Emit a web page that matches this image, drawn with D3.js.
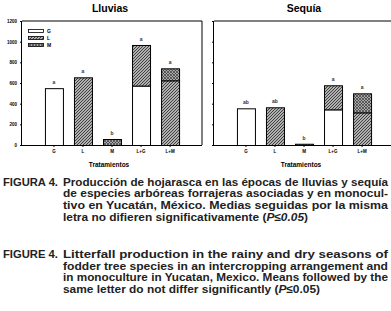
<!DOCTYPE html>
<html>
<head>
<meta charset="utf-8">
<script src="https://cdn.jsdelivr.net/npm/d3@7"></script>
<style>
  html, body { margin: 0; padding: 0; background: #fff; }
  svg { display: block; font-family: "Liberation Sans", Arial, sans-serif; }
</style>
</head>
<body>
<svg id="chart" width="391" height="311"></svg>
<script>
// datos (kg MS/ha)
const tratamientos = ["G", "L", "M", "L+G", "L+M"];
const componentes = ["G", "L", "M"];
const yTicks = [0, 200, 400, 600, 800, 1000, 1200];

const lluviasG = [550, 0, 0, 575, 0];
const lluviasL = [0, 655, 0, 393, 626];
const lluviasM = [0, 0, 58, 0, 116];
const lluviasLetras = ["a", "a", "b", "a", "a"];

const sequiaG = [355, 0, 0, 345, 0];
const sequiaL = [0, 365, 0, 233, 316];
const sequiaM = [0, 0, 12, 0, 184];
const sequiaLetras = ["ab", "ab", "b", "a", "a"];

const svg = d3.select("#chart");

// tramas
const defs = svg.append("defs");
const pL = defs.append("pattern").attr("id", "patL")
  .attr("patternUnits", "userSpaceOnUse").attr("width", 3).attr("height", 3);
pL.append("rect").attr("width", 3).attr("height", 3).attr("fill", "#b0b0b0");
pL.append("path").attr("d", "M-1,1 l2,-2 M0,3 l3,-3 M2,4 l2,-2")
  .attr("stroke", "#333").attr("stroke-width", 0.9);
const pM = defs.append("pattern").attr("id", "patM")
  .attr("patternUnits", "userSpaceOnUse").attr("width", 3).attr("height", 3);
pM.append("rect").attr("width", 3).attr("height", 3).attr("fill", "#a8a8a8");
pM.append("path").attr("d", "M-1,1 l2,-2 M0,3 l3,-3 M2,4 l2,-2 M0,0 l3,3")
  .attr("stroke", "#3a3a3a").attr("stroke-width", 0.7);

const fills = { G: "#fff", L: "url(#patL)", M: "url(#patM)" };

const plotTop = 21, plotBottom = 145, plotW = 180;
const y = d3.scaleLinear().domain([0, 1200]).range([plotBottom, plotTop]);

function panel(x0, titulo, gVals, lVals, mVals, letras, conEtiquetas, conLeyenda, cerrado) {
  const x = d3.scaleBand().domain(tratamientos)
    .range([x0, x0 + plotW]).paddingInner(0.38).paddingOuter(0.79);

  const filas = tratamientos.map((t, i) => ({ t, G: gVals[i], L: lVals[i], M: mVals[i] }));
  const series = d3.stack().keys(componentes)(filas);

  const g = svg.append("g");

  // marco
  g.append("line").attr("x1", x0).attr("x2", cerrado ? x0 + plotW : 400)
    .attr("y1", plotTop).attr("y2", plotTop).attr("stroke", "#000");
  if (cerrado) {
    g.append("line").attr("x1", x0 + plotW).attr("x2", x0 + plotW)
      .attr("y1", plotTop).attr("y2", plotBottom).attr("stroke", "#000");
  }

  series.forEach(s => {
    g.selectAll(null).data(s.filter(d => d[1] - d[0] > 0)).enter()
      .append("rect")
      .attr("x", d => x(d.data.t) + 0.5)
      .attr("y", d => y(d[1]) + 0.5)
      .attr("width", x.bandwidth())
      .attr("height", d => y(d[0]) - y(d[1]))
      .attr("fill", fills[s.key])
      .attr("stroke", "#000")
      .attr("stroke-width", 1);
  });

  const totales = filas.map(d => d.G + d.L + d.M);
  g.selectAll(null).data(tratamientos).enter().append("text")
    .attr("x", d => x(d) + x.bandwidth() / 2)
    .attr("y", (d, i) => y(totales[i]) - 4)
    .attr("text-anchor", "middle")
    .style("font-size", "5px").style("font-weight", "bold").attr("fill", "#333")
    .text((d, i) => letras[i]);

  const ax = g.append("g").attr("transform", `translate(${x0},0)`)
    .call(d3.axisLeft(y).tickValues(yTicks).tickSize(2).tickPadding(3)
      .tickFormat(conEtiquetas ? d3.format("d") : ""));
  ax.select(".domain").attr("d", `M-0.5,${plotTop}V${plotBottom}`);
  ax.selectAll("text").style("font-size", "4.5px").style("font-weight", "bold")
    .attr("font-family", null);

  const bx = g.append("g").attr("transform", `translate(0,${plotBottom})`)
    .call(d3.axisBottom(x).tickSize(2).tickPadding(3).tickSizeOuter(0));
  bx.select(".domain").attr("d", `M${x0},0.5H${cerrado ? x0 + plotW : 400}`);
  bx.selectAll("text").style("font-size", "4.5px").style("font-weight", "bold")
    .attr("font-family", null);

  svg.append("text").attr("x", x0 + 87).attr("y", 167)
    .attr("text-anchor", "middle").style("font-size", "6.5px").style("font-weight", "bold")
    .text("Tratamientos");

  svg.append("text").attr("x", x0 + (cerrado ? 88 : 90)).attr("y", 12)
    .attr("text-anchor", "middle").style("font-size", "10.5px").style("font-weight", "bold")
    .text(titulo);

  if (conLeyenda) {
    const ley = g.append("g");
    componentes.forEach((c, i) => {
      ley.append("rect").attr("x", x0 + 6.5).attr("y", 29.5 + i * 7)
        .attr("width", 15).attr("height", 3)
        .attr("fill", fills[c]).attr("stroke", "#000").attr("stroke-width", 0.8);
      ley.append("text").attr("x", x0 + 25).attr("y", 33 + i * 7)
        .style("font-size", "5px").style("font-weight", "bold").text(c);
    });
  }
}

panel(22, "Lluvias", lluviasG, lluviasL, lluviasM, lluviasLetras, true, true, true);
panel(214, "Sequía", sequiaG, sequiaL, sequiaM, sequiaLetras, false, false, false);

// pie de figura
const pie = [
  { y: 185.5, rot: "FIGURA 4.", partes: [["Producción de hojarasca en las épocas de lluvias y sequía", false]], fin: 388 },
  { y: 197.3, partes: [["de especies arbóreas forrajeras asociadas y en monocul-", false]], fin: 388 },
  { y: 209.1, partes: [["tivo en Yucatán, México. Medias seguidas por la misma", false]], fin: 388 },
  { y: 220.9, partes: [["letra no difieren significativamente (", false], ["P≤0.05", true], [")", false]], fin: 308 },
  { y: 258.0, rot: "FIGURE 4.", partes: [["Litterfall production in the rainy and dry seasons of", false]], fin: 388 },
  { y: 269.7, partes: [["fodder tree species in an intercropping arrangement and", false]], fin: 388 },
  { y: 281.4, partes: [["in monoculture in Yucatan, Mexico. Means followed by the", false]], fin: 388 },
  { y: 293.1, partes: [["same letter do not differ significantly (", false], ["P", true], ["≤0.05)", false]], fin: 320 }
];

pie.forEach(l => {
  if (l.rot) {
    svg.append("text").attr("x", 3).attr("y", l.y)
      .style("font-size", "11.5px").style("font-weight", "bold").attr("fill", "#222")
      .attr("textLength", 55).attr("lengthAdjust", "spacingAndGlyphs")
      .text(l.rot);
  }
  const t = svg.append("text").attr("x", 63).attr("y", l.y)
    .style("font-size", "11.5px").style("font-weight", "bold").attr("fill", "#222")
    .attr("textLength", l.fin - 63).attr("lengthAdjust", "spacingAndGlyphs");
  l.partes.forEach(([s, it]) => {
    t.append("tspan").style("font-style", it ? "italic" : "normal").text(s);
  });
});
</script>
</body>
</html>
